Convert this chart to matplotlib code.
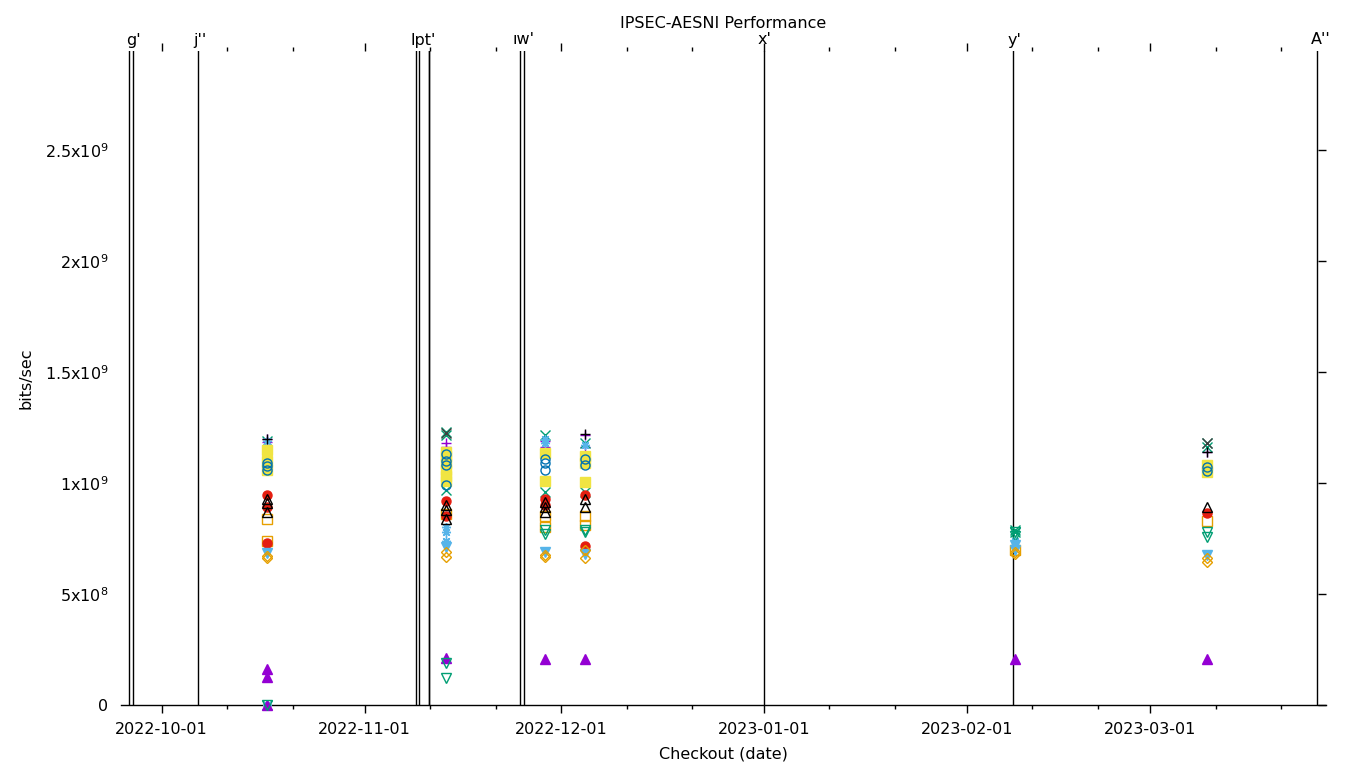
import numpy as np
import pandas as pd
import matplotlib
matplotlib.use("Agg")
import matplotlib.pyplot as plt
import matplotlib.dates as mdates
from matplotlib.ticker import MultipleLocator, FuncFormatter
from matplotlib.transforms import blended_transform_factory

# checkout dates of the benchmark runs
checkouts = pd.to_datetime(["2022-10-17 02:00", "2022-11-13 10:00", "2022-11-28 13:00",
                            "2022-12-04 16:00", "2023-02-08 08:00", "2023-03-09 16:00"])

# values per checkout (bits/sec), one list per run group
plus_purple = [[1.20e9, 1.185e9], [1.18e9, 1.16e9], [1.19e9, 1.16e9], [1.215e9, 1.16e9], [], [1.14e9]]
cross_green = [[1.19e9, 0], [1.23e9, 1.215e9, 0.97e9], [1.215e9, 0.96e9], [1.18e9, 0.96e9], [0.79e9, 0.78e9], [1.18e9, 1.16e9]]
star_lblue = [[1.19e9, 0], [0.80e9, 0.78e9, 0.74e9], [1.20e9, 1.18e9], [1.17e9], [0.74e9], []]
sq_orange = [[0.84e9, 0.74e9], [0.86e9], [0.85e9, 0.80e9], [0.85e9, 0.81e9], [0.70e9], [0.83e9]]
fsq_yellow = [[1.15e9, 1.10e9, 1.06e9], [1.14e9, 1.12e9, 1.09e9, 1.06e9, 1.03e9, 1.01e9], [1.135e9, 1.01e9],
              [1.12e9, 1.09e9, 1.005e9], [], [1.08e9, 1.05e9]]
circ_blue = [[1.09e9, 1.075e9, 1.06e9], [1.13e9, 1.10e9, 1.08e9, 0.99e9], [1.11e9, 1.09e9, 1.06e9],
             [1.11e9, 1.08e9], [], [1.07e9, 1.055e9]]
fcirc_red = [[0.945e9, 0.89e9, 0.73e9], [0.92e9, 0.85e9], [0.93e9, 0.90e9], [0.945e9, 0.715e9], [], [0.865e9]]
tri_black = [[0.93e9, 0.91e9, 0.87e9], [0.90e9, 0.88e9, 0.84e9], [0.915e9, 0.89e9, 0.87e9], [0.93e9, 0.89e9], [], [0.89e9]]
ftri_purple = [[0.16e9, 0.125e9, 0], [0.21e9], [0.205e9], [0.205e9], [0.205e9], [0.205e9]]
tdn_green = [[0], [0.19e9, 0.12e9], [0.79e9, 0.77e9], [0.79e9, 0.78e9], [0.78e9, 0.76e9], [0.78e9, 0.755e9]]
ftdn_lblue = [[0.685e9], [0.71e9], [0.69e9], [0.68e9], [0.72e9, 0.70e9], [0.675e9]]
dia_orange = [[0.67e9, 0.66e9], [0.69e9, 0.665e9], [0.675e9, 0.665e9], [0.70e9, 0.66e9], [0.69e9, 0.68e9], [0.66e9, 0.645e9]]
plus_black = [[1.20e9], [], [], [1.22e9], [], [1.14e9]]
cross_black = [[], [1.225e9], [], [], [], [1.18e9]]

# version markers drawn as vertical lines, labels on the top axis
marker_lines = pd.to_datetime(["2022-09-26 00:00", "2022-09-26 15:00", "2022-10-06 13:00",
                               "2022-11-08 20:00", "2022-11-09 07:00", "2022-11-10 19:00",
                               "2022-11-10 21:00", "2022-11-24 17:00", "2022-11-25 08:00",
                               "2023-01-01 00:00", "2023-02-08 01:00", "2023-03-26 11:00"])
marker_label_dates = pd.to_datetime(["2022-09-26 18:00", "2022-10-06 20:00", "2022-11-09 22:00",
                                     "2022-11-25 08:00", "2023-01-01 03:00", "2023-02-08 05:00",
                                     "2023-03-27 02:00"])
marker_labels = ["g'", "j''", "lpt'", "ıw'", "x'", "y'", "A''"]

series = [
    (plus_purple, "#9400d3", "+", True),
    (cross_green, "#009e73", "x", True),
    (star_lblue, "#56b4e9", (8, 2, 0), True),
    (sq_orange, "#e69f00", "s", False),
    (fsq_yellow, "#f0e442", "s", True),
    (circ_blue, "#0072b2", "o", False),
    (fcirc_red, "#e51e10", "o", True),
    (tri_black, "#000000", "^", False),
    (ftri_purple, "#9400d3", "^", True),
    (tdn_green, "#009e73", "v", False),
    (ftdn_lblue, "#56b4e9", "v", True),
    (dia_orange, "#e69f00", "D", False),
    (plus_black, "#000000", "+", True),
    (cross_black, "#404040", "x", True),
]

plt.rcParams["font.family"] = "DejaVu Sans"
plt.rcParams["mathtext.fontset"] = "dejavusans"
fs = 11.5

fig = plt.figure(figsize=(13.6, 7.68), dpi=100)
ax = fig.add_axes([121 / 1360, 1 - 705 / 768, (1326 - 121) / 1360, (705 - 51) / 768])

for d in marker_lines:
    ax.axvline(d, color="black", lw=1.0, zorder=1)

for vals, color, mk, filled in series:
    xs, ys = [], []
    for d, v in zip(checkouts, vals):
        xs += [d] * len(v)
        ys += v
    if not xs:
        continue
    ms = 5.5 if mk == "D" else 6.5
    ax.plot(xs, ys, linestyle="none", marker=mk, markersize=ms,
            markerfacecolor=color if filled else "none", markeredgecolor=color,
            markeredgewidth=1.0, clip_on=False, zorder=3)

oct1 = mdates.date2num(pd.Timestamp("2022-10-01"))
px_day = 6.547
ax.set_xlim(oct1 - 40.7 / px_day, oct1 + 1164.3 / px_day)
ax.set_ylim(0, 654 / 111 * 5e8)

ax.xaxis.set_major_locator(mdates.MonthLocator())
ax.xaxis.set_minor_locator(mdates.DayLocator(bymonthday=[11, 21]))
ax.xaxis.set_major_formatter(mdates.DateFormatter("%Y-%m-%d"))
ax.yaxis.set_major_locator(MultipleLocator(5e8))


def sci(v, pos):
    if v <= 0:
        return "0" if v == 0 else ""
    e = int(np.floor(np.log10(v)))
    m = round(v / 10 ** e, 3)
    return "%gx10$^{%d}$" % (m, e)


ax.yaxis.set_major_formatter(FuncFormatter(sci))

for s in ["top", "left", "right"]:
    ax.spines[s].set_visible(False)
ax.spines["bottom"].set_linewidth(1.0)

ax.tick_params(axis="x", which="major", top=True, direction="out", length=6, width=1, labelsize=fs, pad=6)
ax.tick_params(axis="x", which="minor", top=True, direction="out", length=3, width=1)
ax.tick_params(axis="y", left=False, right=True, direction="in", length=6, width=1, labelsize=fs, pad=9)

trans = blended_transform_factory(ax.transData, ax.transAxes)
for d, lab in zip(marker_label_dates, marker_labels):
    ax.text(d, 1.0 + 11 / 654, lab, transform=trans, ha="center", va="center", fontsize=fs)

ax.set_xlabel("Checkout (date)", fontsize=fs, labelpad=7)
ax.set_ylabel("bits/sec", fontsize=fs, labelpad=8)
fig.text(0.5 * (121 + 1326) / 1360, 1 - 24 / 768, "IPSEC-AESNI Performance",
         ha="center", va="center", fontsize=fs)

fig.savefig("out.png", dpi=100)
